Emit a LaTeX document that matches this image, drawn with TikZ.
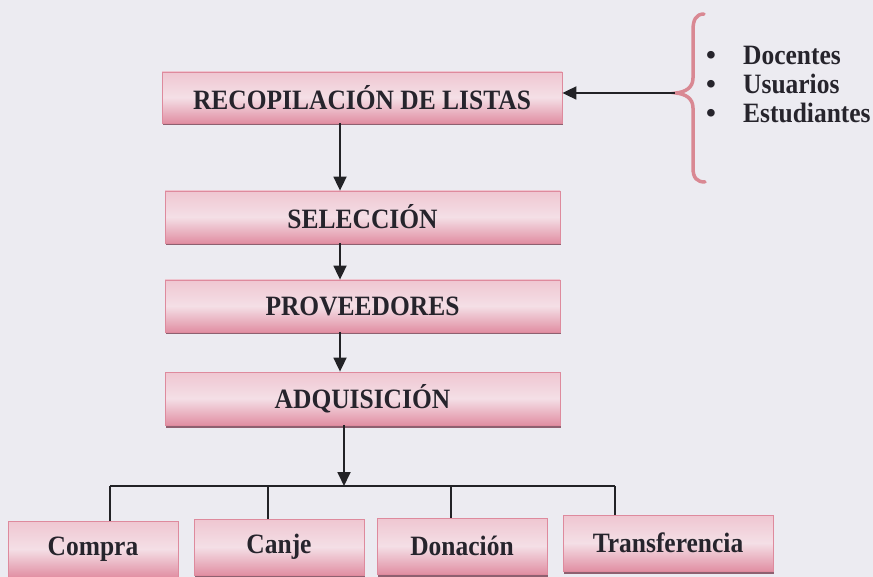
\documentclass[tikz,border=0pt]{standalone}
\usepackage{fontspec}
\setmainfont{Liberation Serif}
\usetikzlibrary{arrows.meta,shadows,calc}
\definecolor{bg}{HTML}{ECEBF1}
\definecolor{boxedge}{HTML}{DE8A9D}
\definecolor{boxtop}{HTML}{EFC6D1}
\definecolor{boxmid}{HTML}{F4DFE6}
\definecolor{boxbot}{HTML}{E18FA3}
\definecolor{shadowc}{HTML}{8E6070}
\definecolor{txt}{HTML}{26242C}
\definecolor{bracec}{HTML}{D98893}
\definecolor{linec}{HTML}{222226}
\newcommand{\cx}[1]{\scalebox{0.91}[1]{#1}}
\tikzset{
  stepbox/.style={draw=boxedge, line width=0.8pt, top color=boxtop, bottom color=boxbot, middle color=boxmid,
    drop shadow={shadow xshift=1.2pt, shadow yshift=-2.5pt, fill=shadowc, opacity=1},
    font=\bfseries\fontsize{28}{30}\selectfont, text=txt, inner sep=0pt},
  arr/.style={draw=linec, line width=1.8pt, -{Triangle[width=13pt,length=14pt]}},
  conn/.style={draw=linec, line width=1.8pt},
  listtxt/.style={font=\bfseries\fontsize{28}{30}\selectfont, text=txt, inner sep=0pt, anchor=base west}
}
\begin{document}
\begin{tikzpicture}[x=1pt,y=-1pt]
\useasboundingbox (0,0) rectangle (873,577);
\fill[bg] (0,0) rectangle (873,577);
\clip (0,0) rectangle (873,577);

% main column
\node[stepbox, minimum width=400pt, minimum height=51pt] (b1) at (362,97.5) {\cx{RECOPILACIÓN DE LISTAS}};
\node[stepbox, minimum width=395pt, minimum height=52pt] (b2) at (362.5,217) {\cx{SELECCIÓN}};
\node[stepbox, minimum width=395pt, minimum height=52pt] (b3) at (362.5,306) {\cx{PROVEEDORES}};
\node[stepbox, minimum width=395pt, minimum height=53pt] (b4) at (362.5,398.5) {\cx{ADQUISICIÓN}};

% bottom row
\node[stepbox, minimum width=170pt, minimum height=56pt] (c1) at (93,549) {\cx{Compra}};
\node[stepbox, minimum width=170pt, minimum height=56pt] (c2) at (279,547) {\cx{Canje}};
\node[stepbox, minimum width=170pt, minimum height=56pt] (c3) at (462,546) {\cx{Donación}};
\node[stepbox, minimum width=210pt, minimum height=56pt] (c4) at (668,543) {\cx{Transferencia}};

% vertical arrows
\coordinate (ax) at (340,0);
\draw[arr] (b1.south -| ax) -- (b2.north -| ax);
\draw[arr] (b2.south -| ax) -- (b3.north -| ax);
\draw[arr] (b3.south -| ax) -- (b4.north -| ax);
\coordinate (hm) at (344,486);
\draw[arr] (b4.south -| hm) -- (hm);

% distribution bar
\coordinate (h1) at (110,486);
\coordinate (h2) at (268,486);
\coordinate (h3) at (451,486);
\coordinate (h4) at (615,486);
\draw[conn] (h1) -- (h4);
\draw[conn] (h1) -- (c1.north -| h1);
\draw[conn] (h2) -- (c2.north -| h2);
\draw[conn] (h3) -- (c3.north -| h3);
\draw[conn] (h4) -- (c4.north -| h4);

% brace
\draw[bracec, line width=3.5pt, line cap=round]
  (704,14) .. controls (696,14) and (693,20) .. (693,30) -- (693,78)
  .. controls (693,88) and (685,92) .. (676,93)
  .. controls (685,94) and (693,98) .. (693,108) -- (693,168)
  .. controls (693,178) and (697,182) .. (705,182);
\coordinate (bt) at (675,93);
\draw[arr] (bt) -- (b1.east |- bt);

% list
\node[listtxt] (l1b) at (706,65) {\textbullet};
\node[listtxt] (l2b) at (706,94) {\textbullet};
\node[listtxt] (l3b) at (706,123) {\textbullet};
\node[listtxt] (l1) at (743,65) {\cx{Docentes}};
\node[listtxt] (l2) at (743,94) {\cx{Usuarios}};
\node[listtxt] (l3) at (743,123) {\cx{Estudiantes}};
\end{tikzpicture}
\end{document}
